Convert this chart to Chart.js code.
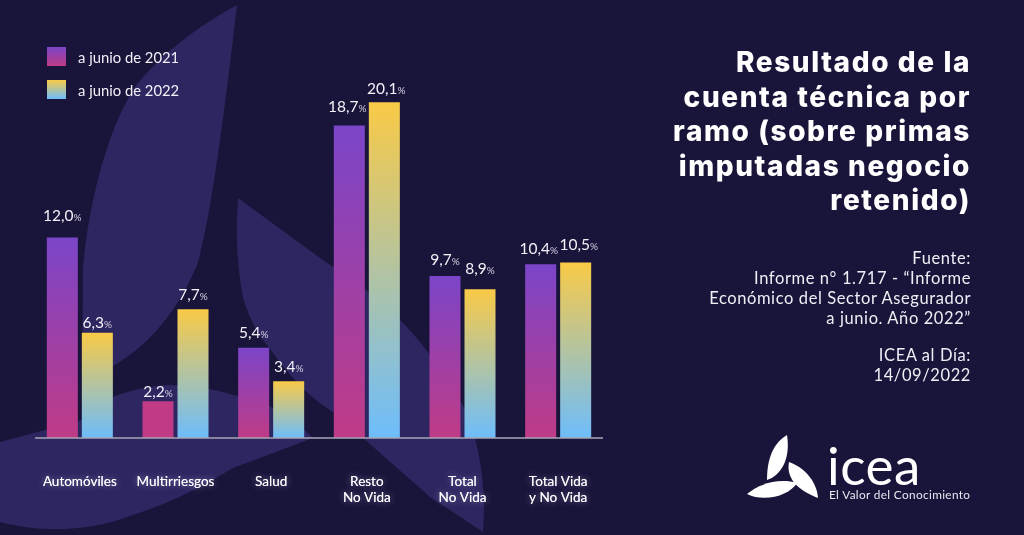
<!DOCTYPE html>
<html lang="es">
<head>
<meta charset="utf-8">
<title>Resultado de la cuenta técnica por ramo</title>
<script src="https://cdn.jsdelivr.net/npm/chart.js@4"></script>
<style>
    html, body { margin: 0; padding: 0; background: #19143a; }
    #page { position: relative; width: 1024px; height: 535px; overflow: hidden; background: #19143a; font-family: Lato, sans-serif; color: #fff; }
    #fondo, #logo { position: absolute; left: 0; top: 0; }
    #wrap { position: absolute; left: 0; top: 0; width: 1024px; height: 535px; }
    .swatch { position: absolute; left: 47px; width: 19px; height: 19px; }
    .leyenda { position: absolute; left: 78px; font-size: 14.8px; line-height: 20px; color: #f1eff7; }
    #titulo { position: absolute; right: 53px; top: 45px; width: 340px; text-align: right; font-family: Inter, sans-serif; font-weight: 800; font-size: 28px; line-height: 34.5px; letter-spacing: 1.6px; }
    #fuente { position: absolute; right: 53px; top: 248px; width: 340px; text-align: right; font-size: 16.5px; line-height: 20px; letter-spacing: 0.6px; color: #eeeef5; }
    #dia { position: absolute; right: 53px; top: 346px; width: 340px; text-align: right; font-size: 16.5px; line-height: 19.5px; letter-spacing: 0.6px; color: #eeeef5; }
    #marca { position: absolute; left: 827px; top: 434px; font-size: 53px; line-height: 62px; letter-spacing: 0.5px; }
    #lema { position: absolute; left: 829px; top: 488px; font-size: 11.8px; line-height: 14px; letter-spacing: 0.35px; color: #e8e8f0; }
</style>
</head>
<body>
<div id="page">
    <svg id="fondo" width="1024" height="535">
        <path fill="#2d2660" d="M237 5 C190 30 150 65 133 90 C105 135 88 210 83 267 L82 420 L0 442 L0 522 C40 533 90 532 133 515 C170 503 200 488 233 468 L313 438 C290 415 265 400 233 395 C210 388 190 385 167 385 C150 386 130 390 113 397 L113 366 C150 345 178 310 197 265 C210 225 225 110 237 5 Z"/>
        <path fill="#2d2660" d="M238 198 C235 240 238 270 243 298 C250 320 258 335 267 345 C285 370 305 395 333 412 L363 438 L430 497 L483 532 C486 490 482 460 470 420 C455 385 425 345 400 320 L363 287 L320 258 Z"/>
    </svg>
    <div id="wrap"><canvas id="grafico" width="1024" height="535"></canvas></div>
    <div id="leyendas"></div>
    <div id="titulo">Resultado de la<br>cuenta técnica por<br>ramo (sobre primas<br>imputadas negocio<br>retenido)</div>
    <div id="fuente">Fuente:<br>Informe n° 1.717 - “Informe<br>Económico del Sector Asegurador<br>a junio. Año 2022”</div>
    <div id="dia">ICEA al Día:<br>14/09/2022</div>
    <svg id="logo" width="1024" height="535">
        <path fill="#fff" d="M787 435 C770 445 767 465 767 480 C780 476 791 460 787 435 Z"/>
        <path fill="#fff" d="M789 462 C786 478 797 490 818 498 C817 483 806 468 789 462 Z"/>
        <path fill="#fff" d="M747 494 C760 483 780 478 797 483 C790 495 765 503 747 494 Z"/>
    </svg>
    <div id="marca">icea</div>
    <div id="lema">El Valor del Conocimiento</div>
</div>

<script>
    // Datos de la gráfica
    const categorias = [['Automóviles'], ['Multirriesgos'], ['Salud'], ['Resto', 'No Vida'], ['Total', 'No Vida'], ['Total Vida', 'y No Vida']];
    const nombresSeries = ['a junio de 2021', 'a junio de 2022'];
    const junio2021 = [12.0, 2.2, 5.4, 18.7, 9.7, 10.4];
    const junio2022 = [6.3, 7.7, 3.4, 20.1, 8.9, 10.5];

    // Separación de cada etiqueta sobre su barra
    const separacion2021 = [16.5, 4, 10, 13.5, 11, 10];
    const separacion2022 = [5, 9, 9, 8, 15, 12.5];
    // Ajuste horizontal de etiquetas que casi se tocan
    const ajusteX2021 = [0, 0, 0, -2, 0, -2];
    const ajusteX2022 = [0, 0, 0, 2, 0, 3];

    // Colores: arriba y abajo de cada serie
    const coloresSeries = [['#7b45c8', '#bf3b86'], ['#f9ca46', '#6dbdfc']];

    // Leyenda en HTML (cuadro con degradado)
    const leyendas = document.getElementById('leyendas');
    nombresSeries.forEach((nombre, i) => {
        const top = 47 + i * 33;
        leyendas.innerHTML += `<div class="swatch" style="top:${top}px;background:linear-gradient(${coloresSeries[i][0]},${coloresSeries[i][1]})"></div>` +
            `<div class="leyenda" style="top:${top - 0.5}px">${nombre}</div>`;
    });

    // Degradado vertical desde lo alto de la barra hasta la base
    const degradado = (ctx, serie) => {
        const chart = ctx.chart;
        if (!chart.chartArea || ctx.parsed === undefined) return coloresSeries[serie][1];
        // La barra de 2,2 en la serie 2021 se ve de color plano
        if (ctx.raw < 3) return coloresSeries[serie][1];
        const escala = chart.scales.y;
        const g = chart.ctx.createLinearGradient(0, escala.getPixelForValue(ctx.raw), 0, escala.getPixelForValue(0));
        g.addColorStop(0, coloresSeries[serie][0]);
        g.addColorStop(1, coloresSeries[serie][1]);
        return g;
    };

    // Brillo de las categorías, línea base y etiquetas de valor
    const adornos = {
        id: 'adornos',
        beforeDraw(chart) {
            const c = chart.ctx;
            c.save();
            c.font = '13.5px Lato, sans-serif';
            c.textAlign = 'center';
            c.textBaseline = 'middle';
            c.fillStyle = 'rgba(255,255,255,0.6)';
            c.shadowColor = 'rgba(225,220,255,0.9)';
            c.shadowBlur = 7;
            chart.scales.x.getLabelItems().forEach(item => {
                const lineas = [].concat(item.label);
                lineas.forEach((linea, i) => c.fillText(linea, item.options.translation[0], item.options.translation[1] + 8 + i * 16));
            });
            c.restore();
        },
        afterDatasetsDraw(chart) {
            const c = chart.ctx;
            const cero = chart.scales.y.getPixelForValue(0);
            c.save();
            c.strokeStyle = '#a8a4b6';
            c.lineWidth = 1.5;
            c.beginPath();
            c.moveTo(chart.chartArea.left + 3, cero);
            c.lineTo(chart.chartArea.right - 3, cero);
            c.stroke();

            c.textBaseline = 'alphabetic';
            chart.data.datasets.forEach((ds, d) => {
                const gaps = d === 0 ? separacion2021 : separacion2022;
                const ajustes = d === 0 ? ajusteX2021 : ajusteX2022;
                chart.getDatasetMeta(d).data.forEach((barra, i) => {
                    const num = ds.data[i].toFixed(1).replace('.', ',');
                    c.font = '15.5px Lato, sans-serif';
                    const w1 = c.measureText(num).width;
                    c.font = '10px Lato, sans-serif';
                    const w2 = c.measureText('%').width;
                    const x = barra.x - (w1 + w2) / 2 + ajustes[i];
                    const y = barra.y - gaps[i];
                    c.textAlign = 'left';
                    c.fillStyle = '#f3f1f8';
                    c.font = '15.5px Lato, sans-serif';
                    c.fillText(num, x, y);
                    c.fillStyle = '#d5d1e2';
                    c.font = '10px Lato, sans-serif';
                    c.fillText('%', x + w1, y);
                });
            });
            c.restore();
        }
    };

    // Inicialización de la gráfica
    new Chart(document.getElementById('grafico').getContext('2d'), {
        type: 'bar',
        data: {
            labels: categorias,
            datasets: [
                { label: nombresSeries[0], data: junio2021, backgroundColor: ctx => degradado(ctx, 0) },
                { label: nombresSeries[1], data: junio2022, backgroundColor: ctx => degradado(ctx, 1) }
            ]
        },
        options: {
            responsive: false,
            animation: false,
            devicePixelRatio: 1,
            categoryPercentage: 0.732,
            barPercentage: 0.886,
            layout: { padding: { left: 32, right: 418, top: 37, bottom: 0 } },
            plugins: { legend: { display: false }, title: { display: false }, tooltip: { enabled: false } },
            scales: {
                x: {
                    afterFit: s => { s.height = 97; },
                    grid: { display: false },
                    border: { display: false },
                    ticks: {
                        color: '#ffffff',
                        padding: 28,
                        maxRotation: 0,
                        autoSkip: false,
                        font: { family: 'Lato, sans-serif', size: 13.5, lineHeight: 1.19 }
                    }
                },
                y: { display: false, min: 0, max: 24 }
            }
        },
        plugins: [adornos]
    });
</script>
</body>
</html>
